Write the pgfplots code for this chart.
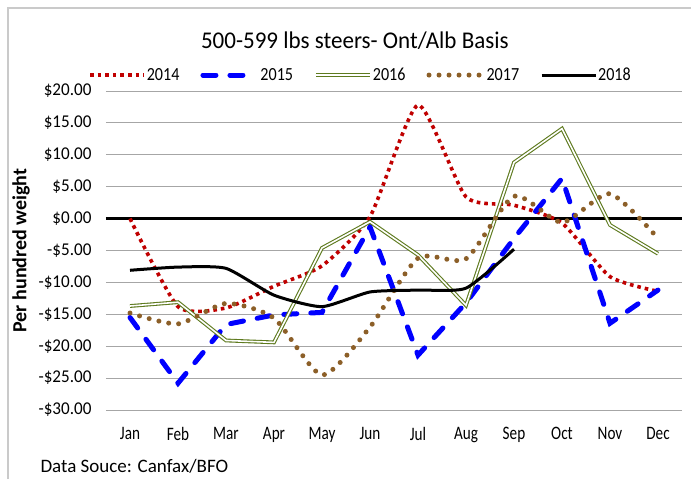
\documentclass[border=0pt]{standalone}
\usepackage{pgfplots}
\pgfplotsset{compat=1.18}
\usepackage{fontspec}
\setmainfont{Carlito}
\newfontfamily\monthfont{Carlito}[FakeStretch=0.8]
\newfontfamily\yfont{Carlito}[FakeStretch=0.95]
\newfontfamily\legfont{Carlito}[FakeStretch=0.87]
\newfontfamily\titlefont{Carlito}[FakeStretch=0.96]

\definecolor{cRed}{HTML}{C00000}
\definecolor{cBlue}{HTML}{0000FF}
\definecolor{cGreen}{HTML}{5E7A1E}
\definecolor{cBrown}{HTML}{8C5F28}
\definecolor{cGrid}{HTML}{A6A6A6}

\begin{document}
\begin{tikzpicture}[x=1pt,y=1pt]
\useasboundingbox (-106,-70) rectangle (586,410);
\draw[cGrid!60, line width=1.5pt] (-98,-69) -- (-98,402) -- (585,402);
\begin{axis}[
   at={(0,0)}, anchor=south west,
   scale only axis,
   width=576pt, height=319pt,
   xmin=-0.5, xmax=11.5,
   ymin=-30, ymax=20,
   xtick={0,...,11},
   xticklabels={Jan,Feb,Mar,Apr,May,Jun,Jul,Aug,Sep,Oct,Nov,Dec},
   ytick={-30,-25,...,20},
   yticklabels={-\$30.00,-\$25.00,-\$20.00,-\$15.00,-\$10.00,-\$5.00,\$0.00,\$5.00,\$10.00,\$15.00,\$20.00},
   axis line style={draw=none},
   major tick length=0pt,
   ymajorgrids=true,
   grid style={cGrid, line width=1pt},
   xticklabel style={font=\monthfont\fontsize{19}{19}\selectfont, yshift=-14pt},
   yticklabel style={font=\yfont\fontsize{18}{18}\selectfont, xshift=-11pt},
   ylabel={Per hundred weight},
   ylabel style={font=\bfseries\fontsize{20}{20}\selectfont, yshift=2pt},
   title={500-599 lbs steers- Ont/Alb Basis},
   title style={font=\titlefont\fontsize{24}{24}\selectfont, at={(0.432,1.14)}, anchor=center},
   legend columns=5,
   legend style={draw=none, fill=none, at={(0.441,1.05)}, anchor=center,
      font=\legfont\fontsize{18.5}{18.5}\selectfont,
      nodes={inner xsep=1pt},
      /tikz/every even column/.append style={column sep=20pt}},
   legend image code/.code={\draw[#1] (0pt,0pt) -- (54pt,0pt);},
   clip=false,
]
\addplot[black, line width=2.6pt, forget plot] coordinates {(-0.5,0) (11.5,0)};

\addplot[cRed, line width=3.6pt, dash pattern=on 3.6pt off 4pt, smooth, tension=0.35] coordinates {
 (0,0) (1,-13.8) (2,-14) (3,-10.6) (4,-7.4) (5,0.3) (6,17.8)
 (7,3.4) (8,2.1) (9,-0.7) (10,-9.1) (11,-11.4)};
\addlegendentry{2014}

\addplot[cBlue, line width=5pt, line cap=round, dash pattern=on 13pt off 14pt] coordinates {
 (0,-15.5) (1,-25.8) (2,-16.6) (3,-15.1) (4,-14.7) (5,-1.3) (6,-21.4)
 (7,-13.2) (8,-3.1) (9,6.3) (10,-16.4) (11,-11.2)};
\addlegendentry{2015}

\addplot[cGreen, line width=1.1pt, double=white, double distance=1.6pt] coordinates {
 (0,-13.7) (1,-13.1) (2,-19.1) (3,-19.4) (4,-4.6) (5,-0.5) (6,-5.7)
 (7,-13.6) (8,8.8) (9,14.1) (10,-1) (11,-5.5)};
\addlegendentry{2016}

\addplot[cBrown, line width=5pt, line cap=round, dash pattern=on 0pt off 10pt, smooth, tension=0.4] coordinates {
 (0,-14.8) (1,-16.5) (2,-13.3) (3,-15.6) (4,-24.5) (5,-17) (6,-6.2)
 (7,-6.3) (8,3.5) (9,-0.6) (10,3.9) (11,-3.1)};
\addlegendentry{2017}

\addplot[black, line width=3pt, smooth, tension=0.35] coordinates {
 (0,-8.1) (1,-7.6) (2,-7.8) (3,-12) (4,-13.8) (5,-11.5) (6,-11.2)
 (7,-10.9) (8,-4.8)};
\addlegendentry{2018}
\end{axis}
\node[anchor=west, font=\fontsize{19}{19}\selectfont] at (-69,-56) {Data Souce: Canfax/BFO};
\end{tikzpicture}
\end{document}
